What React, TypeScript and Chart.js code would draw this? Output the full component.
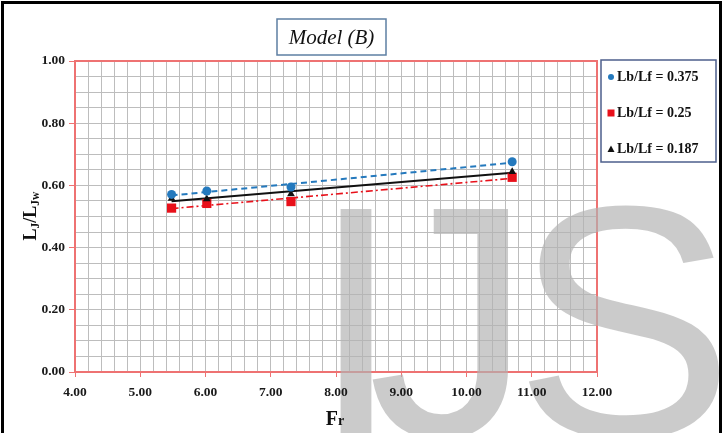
import React, { useEffect, useRef } from "react";
import { Chart, registerables } from "chart.js";

Chart.register(...registerables);

// Froude numbers (x values), shared by all series
const FR = [5.48, 6.02, 7.31, 10.7];
// Lj/Ljw for each Lb/Lf ratio
const Y_0375 = [0.571, 0.582, 0.595, 0.676];
const Y_025 = [0.527, 0.542, 0.548, 0.626];
const Y_0187 = [0.558, 0.556, 0.572, 0.644];

const SERIES_LABELS = ["Lb/Lf = 0.375", "Lb/Lf = 0.25", "Lb/Lf = 0.187"];
const TITLE = "Model (B)";
const X_MIN = 4, X_MAX = 12, X_STEP = 0.2, X_LABEL_STEP = 1;
const Y_MIN = 0, Y_MAX = 1, Y_STEP = 0.05, Y_LABEL_STEP = 0.2;
const X_TICK_LABELS = ["4.00", "5.00", "6.00", "7.00", "8.00", "9.00", "10.00", "11.00", "12.00"];
const Y_TICK_LABELS = ["0.00", "0.20", "0.40", "0.60", "0.80", "1.00"];

const BLUE = "#2479bd";
const RED = "#e8101a";
const BLACK = "#111111";
const AXIS_RED = "#ee7272";

function pts(xs: number[], ys: number[]) {
  return xs.map((x, i) => ({ x, y: ys[i] }));
}

// least-squares linear trendline through the series, evaluated at first/last x
function trend(xs: number[], ys: number[]) {
  const n = xs.length;
  const mx = xs.reduce((a, b) => a + b, 0) / n;
  const my = ys.reduce((a, b) => a + b, 0) / n;
  let sxy = 0, sxx = 0;
  for (let i = 0; i < n; i++) {
    sxy += (xs[i] - mx) * (ys[i] - my);
    sxx += (xs[i] - mx) * (xs[i] - mx);
  }
  const b = sxy / sxx;
  const a = my - b * mx;
  const x0 = Math.min(...xs), x1 = Math.max(...xs);
  return [{ x: x0, y: a + b * x0 }, { x: x1, y: a + b * x1 }];
}

function isMultiple(v: number, step: number) {
  const r = v / step;
  return Math.abs(r - Math.round(r)) < 1e-6;
}

const decorPlugin = {
  id: "decor",
  beforeDatasetsDraw(chart: any) {
    const { ctx, chartArea: a } = chart;
    ctx.save();
    ctx.strokeStyle = AXIS_RED;
    ctx.lineWidth = 2;
    ctx.strokeRect(a.left, a.top, a.right - a.left, a.bottom - a.top);

    // Watermark (above grid, below texts)
    ctx.fillStyle = "rgba(178,178,178,0.68)";
    ctx.font = "330px 'Liberation Sans'";
    ctx.textAlign = "center";
    ctx.textBaseline = "alphabetic";
    ctx.fillText("I", 356, 436);
    ctx.fillText("J", 450, 436);
    ctx.fillText("S", 624, 436);
    ctx.restore();
  },
  afterDraw(chart: any) {
    const { ctx } = chart;
    const xs = chart.scales.x;
    const ysc = chart.scales.y;
    ctx.save();

    // Tick labels
    ctx.fillStyle = "#1a1a1a";
    ctx.font = "bold 13.5px 'Liberation Serif'";
    ctx.textBaseline = "middle";
    ctx.textAlign = "center";
    X_TICK_LABELS.forEach((t) => {
      ctx.fillText(t, xs.getPixelForValue(parseFloat(t)), xs.top + 21);
    });
    ctx.textAlign = "right";
    Y_TICK_LABELS.forEach((t) => {
      ctx.fillText(t, ysc.right - 10, ysc.getPixelForValue(parseFloat(t)));
    });

    // Title box
    ctx.fillStyle = "#ffffff";
    ctx.fillRect(277, 19, 109, 36);
    ctx.strokeStyle = "#5d7fa3";
    ctx.lineWidth = 1.5;
    ctx.strokeRect(277, 19, 109, 36);
    ctx.fillStyle = "#111";
    ctx.font = "italic 21px 'Liberation Serif'";
    ctx.textAlign = "center";
    ctx.textBaseline = "middle";
    ctx.fillText(TITLE, 331.5, 38);

    // Legend box
    ctx.fillStyle = "#ffffff";
    ctx.fillRect(601, 60, 115, 102);
    ctx.strokeStyle = "#4d5f8c";
    ctx.lineWidth = 1.5;
    ctx.strokeRect(601, 60, 115, 102);
    const ly = [77, 113, 149];
    ctx.font = "bold 14px 'Liberation Serif'";
    ctx.textAlign = "left";
    ctx.textBaseline = "middle";
    SERIES_LABELS.forEach((lab, i) => {
      const y = ly[i];
      const mx = 611;
      if (i === 0) {
        ctx.fillStyle = BLUE;
        ctx.beginPath();
        ctx.arc(mx, y, 3, 0, Math.PI * 2);
        ctx.fill();
      } else if (i === 1) {
        ctx.fillStyle = RED;
        ctx.fillRect(mx - 3.5, y - 3.5, 7, 7);
      } else {
        ctx.fillStyle = BLACK;
        ctx.beginPath();
        ctx.moveTo(mx, y - 3.5);
        ctx.lineTo(mx + 3.5, y + 3);
        ctx.lineTo(mx - 3.5, y + 3);
        ctx.closePath();
        ctx.fill();
      }
      ctx.fillStyle = "#111";
      ctx.fillText(lab, 617, y + 0.5);
    });

    // Y axis title: L_J / L_Jw (rotated)
    ctx.save();
    ctx.translate(30, 216);
    ctx.rotate(-Math.PI / 2);
    ctx.fillStyle = "#111";
    ctx.textBaseline = "alphabetic";
    ctx.textAlign = "left";
    const big = "bold 18px 'Liberation Serif'";
    const small = "bold 11.5px 'Liberation Serif'";
    const parts: [string, string, number][] = [
      ["L", big, 0], ["J", small, 3], ["/L", big, 0], ["Jw", small, 3],
    ];
    let total = 0;
    parts.forEach(([t, f]) => { ctx.font = f; total += ctx.measureText(t).width; });
    let cx = -total / 2;
    parts.forEach(([t, f, dy]) => {
      ctx.font = f;
      ctx.fillText(t, cx, 6 + dy);
      cx += ctx.measureText(t).width;
    });
    ctx.restore();

    // X axis title: Fr
    ctx.fillStyle = "#111";
    ctx.textBaseline = "alphabetic";
    ctx.textAlign = "left";
    ctx.font = "bold 20px 'Liberation Serif'";
    const fw = ctx.measureText("F").width;
    ctx.font = "bold 14px 'Liberation Serif'";
    const rw = ctx.measureText("r").width;
    const sx = 335 - (fw + rw) / 2;
    ctx.font = "bold 20px 'Liberation Serif'";
    ctx.fillText("F", sx, 425);
    ctx.font = "bold 14px 'Liberation Serif'";
    ctx.fillText("r", sx + fw, 425);

    ctx.restore();
  },
};

export default function App() {
  const ref = useRef<HTMLCanvasElement | null>(null);

  useEffect(() => {
    document.body.style.margin = "0";
    const canvas = ref.current!;
    const chart = new Chart(canvas, {
      type: "scatter",
      data: {
        datasets: [
          {
            label: SERIES_LABELS[0],
            data: pts(FR, Y_0375),
            pointStyle: "circle",
            radius: 4.5,
            backgroundColor: BLUE,
            borderColor: BLUE,
            borderWidth: 0,
            order: 0,
          },
          {
            label: SERIES_LABELS[2],
            data: pts(FR, Y_0187),
            pointStyle: "triangle",
            radius: 4.5,
            backgroundColor: BLACK,
            borderColor: BLACK,
            borderWidth: 0,
            order: 1,
          },
          {
            label: SERIES_LABELS[1],
            data: pts(FR, Y_025),
            pointStyle: "rect",
            radius: 6.5,
            backgroundColor: RED,
            borderColor: RED,
            borderWidth: 0,
            order: 2,
          },
          {
            type: "line",
            label: "trend 0.375",
            data: trend(FR, Y_0375),
            borderColor: BLUE,
            borderWidth: 2,
            borderDash: [6, 4],
            pointRadius: 0,
            showLine: true,
            order: 5,
          },
          {
            type: "line",
            label: "trend 0.187",
            data: trend(FR, Y_0187),
            borderColor: BLACK,
            borderWidth: 2,
            pointRadius: 0,
            showLine: true,
            order: 5,
          },
          {
            type: "line",
            label: "trend 0.25",
            data: trend(FR, Y_025),
            borderColor: RED,
            borderWidth: 1.6,
            borderDash: [7, 3, 2, 3],
            pointRadius: 0,
            showLine: true,
            order: 5,
          },
        ] as any,
      },
      options: {
        animation: false,
        responsive: false,
        devicePixelRatio: 1,
        layout: { padding: { left: 0, top: 61, right: 126, bottom: 0 } },
        plugins: {
          legend: { display: false },
          tooltip: { enabled: false },
          title: { display: false },
        },
        scales: {
          x: {
            type: "linear",
            min: X_MIN,
            max: X_MAX,
            afterFit: (s: any) => { s.height = 61; },
            afterBuildTicks: (s: any) => {
              const t = [];
              for (let v = X_MIN; v <= X_MAX + 1e-9; v += X_STEP) t.push({ value: Math.round(v * 1000) / 1000 });
              s.ticks = t;
            },
            ticks: { display: false, autoSkip: false, maxRotation: 0 },
            grid: {
              color: "#bdbdbd",
              lineWidth: 1,
              tickLength: 5,
              tickColor: (c: any) => (c.tick && isMultiple(c.tick.value, X_LABEL_STEP) ? AXIS_RED : "rgba(0,0,0,0)"),
            },
            border: { color: AXIS_RED, width: 2 },
          },
          y: {
            type: "linear",
            min: Y_MIN,
            max: Y_MAX,
            afterFit: (s: any) => { s.width = 75; },
            afterBuildTicks: (s: any) => {
              const t = [];
              for (let v = Y_MIN; v <= Y_MAX + 1e-9; v += Y_STEP) t.push({ value: Math.round(v * 1000) / 1000 });
              s.ticks = t;
            },
            ticks: { display: false, autoSkip: false },
            grid: {
              color: "#bdbdbd",
              lineWidth: 1,
              tickLength: 6,
              tickColor: (c: any) => (c.tick && isMultiple(c.tick.value, Y_LABEL_STEP) ? AXIS_RED : "rgba(0,0,0,0)"),
            },
            border: { color: AXIS_RED, width: 2 },
          },
        },
      },
      plugins: [decorPlugin],
    });
    return () => chart.destroy();
  }, []);

  return (
    <div style={{ position: "fixed", left: 0, top: 0, width: 723, height: 433, overflow: "hidden", background: "#fff" }}>
      <div
        style={{
          position: "absolute",
          left: 1,
          top: 1,
          width: 715,
          height: 450,
          border: "3px solid #000",
        }}
      />
      <canvas ref={ref} width={723} height={433} style={{ position: "absolute", left: 0, top: 0 }} />
    </div>
  );
}
